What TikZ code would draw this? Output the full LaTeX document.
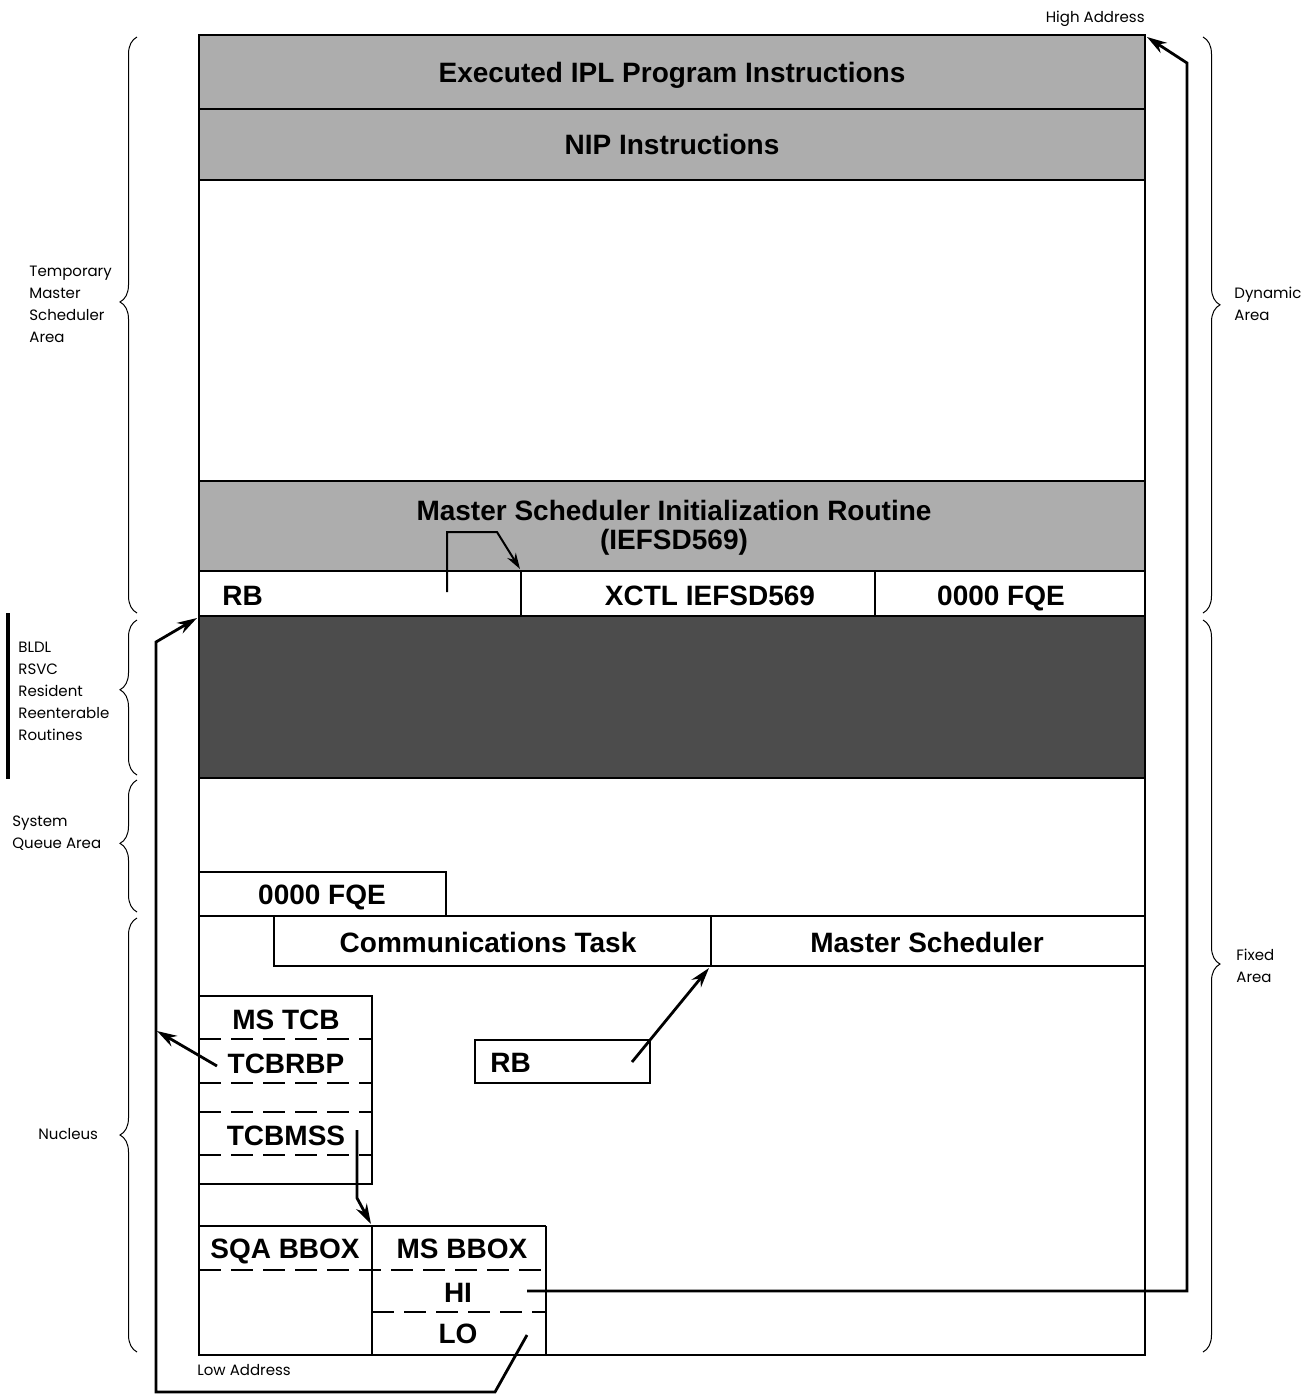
\documentclass[tikz,border=0pt]{standalone}
\usepackage{fontspec}
\setmainfont{Liberation Sans}
\newfontfamily\smallf{Poppins}
\usetikzlibrary{arrows.meta,decorations.pathreplacing}
\definecolor{lightg}{gray}{0.68}
\definecolor{darkg}{gray}{0.30}
\tikzset{
  frame/.style={line width=1pt},
  big/.style={font=\fontsize{14}{16}\selectfont\bfseries, inner sep=0pt},
  small/.style={font=\smallf\fontsize{7.5}{11}\selectfont, inner sep=0pt, align=left},
  arr/.style={line width=1.4pt, -{Stealth[length=10pt,width=6pt]}},
  thinarr/.style={line width=1pt, -{Stealth[length=8pt,width=5pt]}},
  brc/.style={decorate, decoration={brace, amplitude=8.5pt, aspect=#1}, line width=0.5pt},
  brc/.default=0.5,
  dsh/.style={line width=1pt, dash pattern=on 11pt off 5pt}
}
\begin{document}
\begin{tikzpicture}[x=0.5pt,y=-0.5pt]
\useasboundingbox (0,0) rectangle (1309,1394);
% fills
\fill[lightg] (199,35) rectangle (1145,180);
\fill[lightg] (199,481) rectangle (1145,571);
\fill[darkg] (199,616) rectangle (1145,778);
% main frame
\draw[frame] (199,35) rectangle (1145,1355);
\foreach \yy in {109,180,481,571,616,778,916}
  \draw[frame] (199,\yy) -- (1145,\yy);
\draw[frame] (521,571) -- (521,616);
\draw[frame] (875,571) -- (875,616);
% lower boxes
\draw[frame] (199,872) rectangle (446,916);
\draw[frame] (274,916) rectangle (711,966);
\draw[frame] (711,916) rectangle (1145,966);
\draw[frame] (199,996) rectangle (372,1184);
\foreach \yy in {1039,1083,1112,1155}
  \draw[dsh] (199,\yy) -- (372,\yy);
\draw[frame] (475,1040) rectangle (650,1083);
\draw[frame] (199,1226) -- (546,1226);
\draw[frame] (372,1226) -- (372,1355);
\draw[frame] (546,1226) -- (546,1355);
\draw[dsh] (199,1270) -- (546,1270);
\draw[dsh] (372,1312) -- (546,1312);
% left dark bar
\draw[line width=2pt] (8,613) -- (8,779);
% bold labels
\node[big, anchor=base] (ipl) at (672,82) {Executed IPL Program Instructions};
\node[big, anchor=base] (nip) at (672,154) {NIP Instructions};
\node[big, anchor=base] (msi) at (674,520) {Master Scheduler Initialization Routine};
\node[big, anchor=base] (msi2) at (674,549) {(IEFSD569)};
\node[big, anchor=base west] (rb1) at (222,605) {RB};
\node[big, anchor=base] (xctl) at (710,605) {XCTL IEFSD569};
\node[big, anchor=base] (fqe1) at (1001,605) {0000 FQE};
\node[big, anchor=base] (fqe2) at (322,904) {0000 FQE};
\node[big, anchor=base] (comm) at (488,952) {Communications Task};
\node[big, anchor=base] (msch) at (927,952) {Master Scheduler};
\node[big, anchor=base] (mstcb) at (286,1029) {MS TCB};
\node[big, anchor=base] (tcbrbp) at (286,1073) {TCBRBP};
\node[big, anchor=base] (tcbmss) at (286,1145) {TCBMSS};
\node[big, anchor=base west] (rb2) at (490,1072) {RB};
\node[big, anchor=base] (sqa) at (285,1258) {SQA BBOX};
\node[big, anchor=base] (msbb) at (462,1258) {MS BBOX};
\node[big, anchor=base] (hi) at (458,1302) {HI};
\node[big, anchor=base] (lo) at (458,1343) {LO};
% small labels
\node[small, anchor=east] (high) at (1145,19) {High Address};
\node[small, anchor=west] (low) at (197,1370) {Low Address};
\node[small, anchor=west] (tmsa) at (29,304) {Temporary\\Master\\Scheduler\\Area};
\node[small, anchor=west] (bldl) at (18,691) {BLDL\\RSVC\\Resident\\Reenterable\\Routines};
\node[small, anchor=west] (sqarea) at (12,833) {System\\Queue Area};
\node[small, anchor=west] (nuc) at (38,1134) {Nucleus};
\node[small, anchor=west] (dyn) at (1234,304) {Dynamic\\Area};
\node[small, anchor=west] (fix) at (1236,966) {Fixed\\Area};
% braces
\draw[brc=0.54] (137,613) -- (137,37);
\draw[brc=0.55] (137,775) -- (137,620);
\draw[brc=0.52] (137,912) -- (137,780);
\draw[brc=0.5] (137,1352) -- (137,918);
\draw[brc=0.465] (1203,37) -- (1203,613);
\draw[brc=0.47] (1203,620) -- (1203,1352);
% connector coordinates
\coordinate (hiS) at (527,1291);
\coordinate (hiB1) at (1187,1291);
\coordinate (hiB2) at (1187,63);
\coordinate (hiT) at (1147,37);
\coordinate (loS) at (527,1335);
\coordinate (loB1) at (495,1392);
\coordinate (loB2) at (156,1392);
\coordinate (loB3) at (156,642);
\coordinate (loT) at (197,618);
\coordinate (rbpS) at (217,1066);
\coordinate (rbpT) at (157,1031);
\coordinate (mssS) at (357,1130);
\coordinate (mssB) at (357,1198);
\coordinate (mssT) at (371,1224);
\coordinate (rb2S) at (632,1062);
\coordinate (rb2T) at (709,968);
\coordinate (xS) at (447,592);
\coordinate (xB1) at (447,532);
\coordinate (xB2) at (497,532);
\coordinate (xT) at (520,569);
% connectors
\draw[arr, line join=miter] (hiS) -- (hiB1) -- (hiB2) -- (hiT);
\draw[arr, line join=miter] (loS) -- (loB1) -- (loB2) -- (loB3) -- (loT);
\draw[arr] (rbpS) -- (rbpT);
\draw[arr] (mssS) -- (mssB) -- (mssT);
\draw[arr] (rb2S) -- (rb2T);
\draw[thinarr] (xS) -- (xB1) -- (xB2) -- (xT);
\end{tikzpicture}
\end{document}
